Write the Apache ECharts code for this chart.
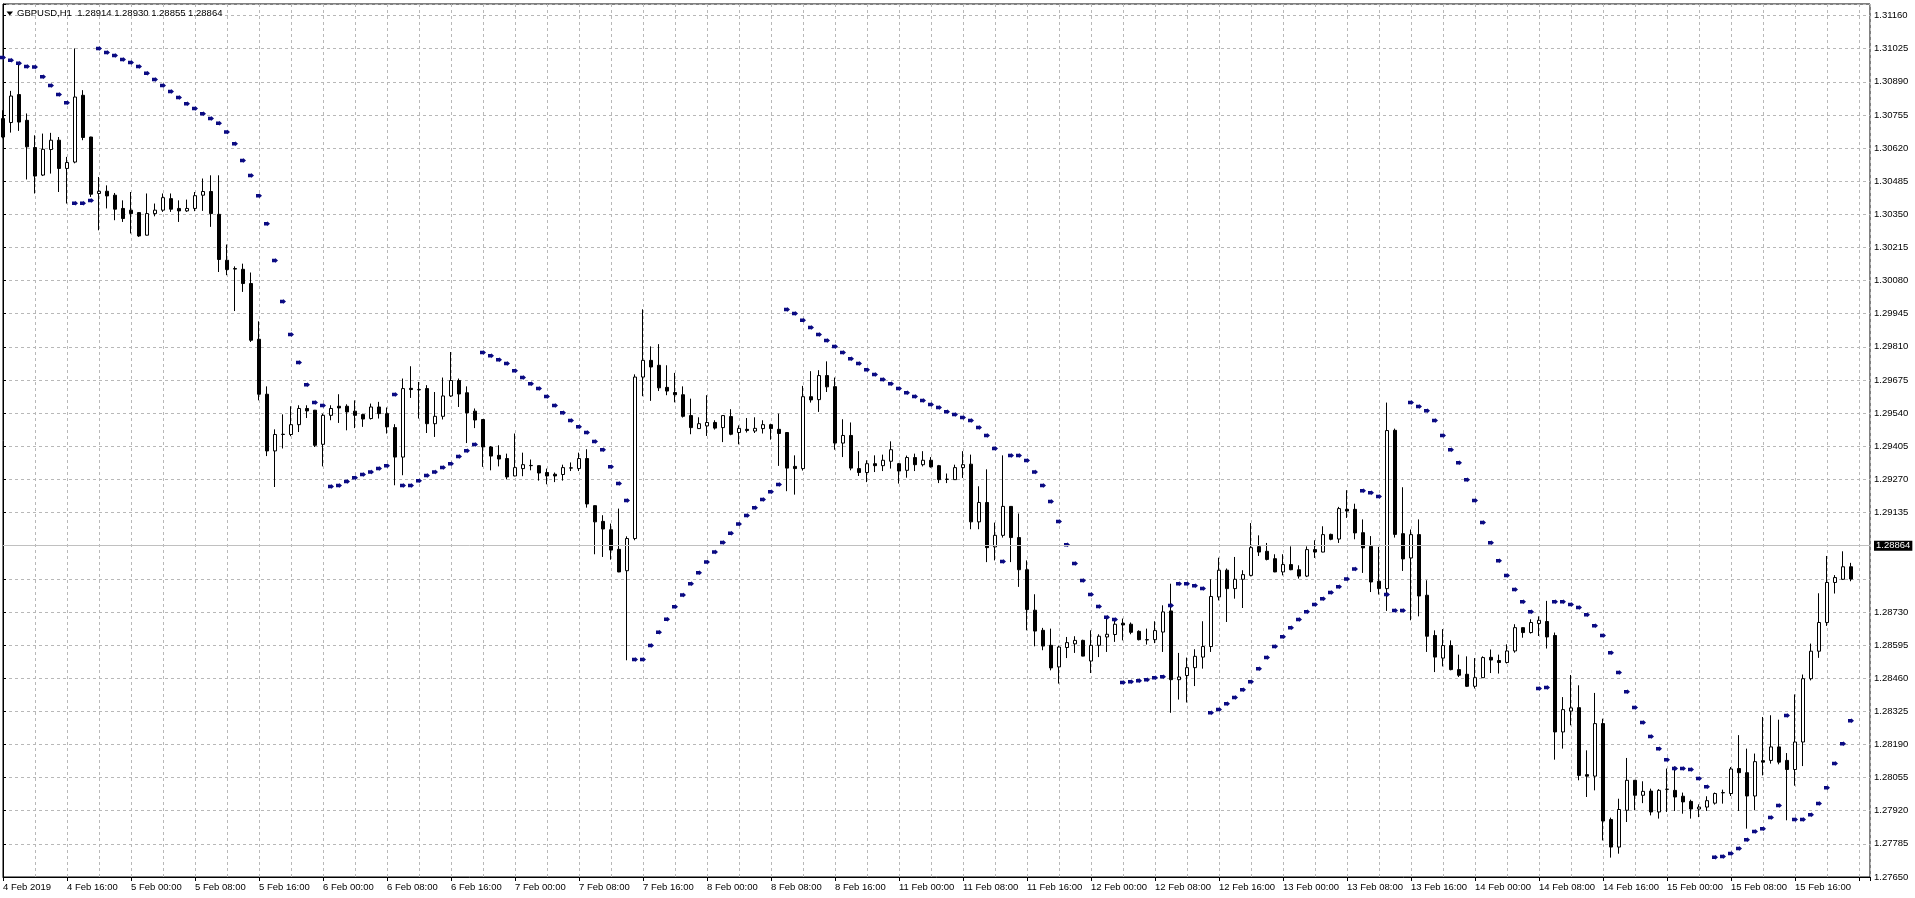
<!DOCTYPE html>
<html>
<head>
<meta charset="utf-8">
<script src="https://cdn.jsdelivr.net/npm/echarts@6/dist/echarts.min.js"></script>
<style>
html,body{margin:0;padding:0;background:#ffffff;}
#chart{width:1915px;height:898px;}
</style>
</head>
<body>
<div id="chart"></div>
<script>
const symbolName = 'GBPUSD,H1';

const tickLabels = ['4 Feb 2019','4 Feb 16:00','5 Feb 00:00','5 Feb 08:00','5 Feb 16:00','6 Feb 00:00','6 Feb 08:00','6 Feb 16:00','7 Feb 00:00','7 Feb 08:00','7 Feb 16:00','8 Feb 00:00','8 Feb 08:00','8 Feb 16:00','11 Feb 00:00','11 Feb 08:00','11 Feb 16:00','12 Feb 00:00','12 Feb 08:00','12 Feb 16:00','13 Feb 00:00','13 Feb 08:00','13 Feb 16:00','14 Feb 00:00','14 Feb 08:00','14 Feb 16:00','15 Feb 00:00','15 Feb 08:00','15 Feb 16:00'];

const opens = [
1.30740,1.30724,1.30838,1.30733,1.30622,1.30510,1.30614,1.30652,1.30537,1.30563,
1.30835,1.30665,1.30435,1.30444,1.30428,1.30374,1.30367,1.30357,1.30265,1.30353,
1.30367,1.30414,1.30374,1.30364,1.30374,1.30428,1.30443,1.30350,1.30163,1.30129,
1.30126,1.30068,1.29841,1.29617,1.29386,1.29453,1.29453,1.29493,1.29559,1.29552,
1.29413,1.29531,1.29568,1.29568,1.29548,1.29534,1.29518,1.29565,1.29538,1.29481,
1.29361,1.29641,1.29636,1.29640,1.29497,1.29527,1.29610,1.29673,1.29623,1.29548,
1.29514,1.29402,1.29368,1.29355,1.29284,1.29314,1.29326,1.29326,1.29298,1.29291,
1.29290,1.29317,1.29314,1.29355,1.29163,1.29099,1.29065,1.28985,1.28898,1.29029,
1.29687,1.29755,1.29735,1.29645,1.29624,1.29615,1.29530,1.29477,1.29488,1.29502,
1.29481,1.29526,1.29461,1.29474,1.29467,1.29477,1.29493,1.29474,1.29461,1.29323,
1.29314,1.29607,1.29595,1.29693,1.29648,1.29418,1.29449,1.29314,1.29298,1.29334,
1.29326,1.29344,1.29334,1.29307,1.29359,1.29330,1.29348,1.29326,1.29270,1.29269,
1.29318,1.29332,1.29097,1.29176,1.28995,1.29042,1.29160,1.29033,1.28902,1.28737,
1.28655,1.28594,1.28506,1.28585,1.28600,1.28614,1.28530,1.28594,1.28628,1.28638,
1.28684,1.28680,1.28651,1.28617,1.28617,1.28648,1.28734,1.28454,1.28471,1.28503,
1.28546,1.28589,1.28791,1.28900,1.28825,1.28863,1.28879,1.28996,1.28977,1.28947,
1.28893,1.28923,1.28902,1.28876,1.28984,1.28974,1.29046,1.29027,1.29148,1.29148,
1.29053,1.28997,1.28855,1.28825,1.29470,1.29049,1.28950,1.29045,1.28798,1.28634,
1.28542,1.28593,1.28495,1.28476,1.28427,1.28462,1.28545,1.28532,1.28524,1.28571,
1.28666,1.28646,1.28683,1.28691,1.28634,1.28241,1.28326,1.28340,1.28067,1.28061,
1.28275,1.27884,1.27772,1.27922,1.28044,1.27983,1.28000,1.27915,1.28007,1.28003,
1.27979,1.27958,1.27927,1.27935,1.27951,1.27993,1.27990,1.28092,1.28075,1.27980,
1.28124,1.28125,1.28180,1.28125,1.28088,1.28200,1.28458,1.28570,1.28687,1.28850,
1.28863,1.28914];

const highs = [
1.30774,1.30853,1.30969,1.30761,1.30672,1.30679,1.30682,1.30665,1.30584,1.31026,
1.30856,1.30666,1.30502,1.30468,1.30437,1.30407,1.30441,1.30358,1.30435,1.30394,
1.30435,1.30435,1.30407,1.30410,1.30441,1.30496,1.30509,1.30509,1.30227,1.30138,
1.30149,1.30113,1.29914,1.29649,1.29474,1.29535,1.29568,1.29572,1.29572,1.29553,
1.29538,1.29572,1.29617,1.29576,1.29592,1.29538,1.29579,1.29586,1.29563,1.29495,
1.29681,1.29731,1.29667,1.29654,1.29626,1.29685,1.29789,1.29681,1.29649,1.29559,
1.29515,1.29406,1.29409,1.29375,1.29457,1.29379,1.29351,1.29327,1.29314,1.29298,
1.29330,1.29339,1.29379,1.29393,1.29164,1.29124,1.29090,1.29151,1.29038,1.29698,
1.29963,1.29812,1.29821,1.29735,1.29704,1.29649,1.29599,1.29523,1.29613,1.29511,
1.29531,1.29556,1.29490,1.29520,1.29523,1.29511,1.29497,1.29538,1.29462,1.29368,
1.29651,1.29711,1.29715,1.29751,1.29685,1.29515,1.29502,1.29385,1.29348,1.29368,
1.29371,1.29425,1.29337,1.29367,1.29375,1.29385,1.29361,1.29329,1.29294,1.29330,
1.29385,1.29371,1.29242,1.29311,1.29094,1.29368,1.29161,1.29131,1.28940,1.28802,
1.28665,1.28662,1.28593,1.28628,1.28631,1.28617,1.28655,1.28639,1.28709,1.28703,
1.28703,1.28687,1.28655,1.28662,1.28692,1.28757,1.28845,1.28563,1.28544,1.28578,
1.28692,1.28863,1.28951,1.28907,1.28954,1.28900,1.29092,1.29042,1.29011,1.28965,
1.28965,1.28997,1.28920,1.28997,1.29022,1.29079,1.29049,1.29158,1.29226,1.29171,
1.29107,1.29039,1.28995,1.29583,1.29477,1.29238,1.29066,1.29107,1.28859,1.28655,
1.28660,1.28614,1.28556,1.28549,1.28542,1.28549,1.28577,1.28556,1.28598,1.28680,
1.28667,1.28700,1.28712,1.28775,1.28646,1.28383,1.28473,1.28431,1.28166,1.28400,
1.28295,1.27892,1.27969,1.28135,1.28045,1.28040,1.28010,1.28008,1.28092,1.28101,
1.27994,1.27965,1.27946,1.27979,1.27994,1.28006,1.28098,1.28228,1.28173,1.28153,
1.28302,1.28309,1.28291,1.28155,1.28394,1.28475,1.28601,1.28806,1.28958,1.28880,
1.28977,1.28930];

const lows = [
1.30660,1.30683,1.30690,1.30492,1.30435,1.30506,1.30516,1.30441,1.30394,1.30558,
1.30652,1.30421,1.30285,1.30374,1.30326,1.30319,1.30272,1.30258,1.30264,1.30342,
1.30360,1.30360,1.30319,1.30360,1.30363,1.30364,1.30299,1.30115,1.30102,1.29956,
1.30034,1.29830,1.29592,1.29365,1.29239,1.29396,1.29446,1.29463,1.29520,1.29402,
1.29323,1.29511,1.29500,1.29470,1.29479,1.29484,1.29514,1.29518,1.29457,1.29246,
1.29287,1.29602,1.29518,1.29459,1.29443,1.29514,1.29606,1.29565,1.29418,1.29479,
1.29321,1.29307,1.29323,1.29270,1.29283,1.29283,1.29307,1.29265,1.29250,1.29259,
1.29265,1.29304,1.29304,1.29155,1.28965,1.28954,1.28943,1.28892,1.28533,1.29022,
1.29609,1.29590,1.29630,1.29613,1.29584,1.29522,1.29454,1.29476,1.29447,1.29473,
1.29422,1.29450,1.29413,1.29461,1.29459,1.29457,1.29432,1.29325,1.29222,1.29208,
1.29306,1.29583,1.29545,1.29626,1.29391,1.29361,1.29307,1.29284,1.29259,1.29300,
1.29304,1.29314,1.29253,1.29277,1.29304,1.29323,1.29318,1.29255,1.29255,1.29268,
1.29276,1.29067,1.29067,1.28933,1.28940,1.29033,1.28933,1.28832,1.28655,1.28590,
1.28574,1.28492,1.28438,1.28542,1.28563,1.28549,1.28481,1.28546,1.28567,1.28608,
1.28614,1.28639,1.28614,1.28597,1.28603,1.28567,1.28319,1.28373,1.28361,1.28428,
1.28499,1.28567,1.28777,1.28689,1.28784,1.28746,1.28875,1.28958,1.28940,1.28892,
1.28879,1.28900,1.28866,1.28872,1.28950,1.28973,1.29022,1.29011,1.29113,1.29026,
1.28889,1.28811,1.28801,1.28734,1.29033,1.28897,1.28696,1.28712,1.28567,1.28485,
1.28508,1.28492,1.28465,1.28424,1.28418,1.28461,1.28481,1.28479,1.28520,1.28564,
1.28625,1.28642,1.28632,1.28581,1.28128,1.28173,1.28268,1.28044,1.27976,1.28003,
1.27799,1.27729,1.27745,1.27874,1.27922,1.27951,1.27901,1.27888,1.27915,1.27919,
1.27908,1.27888,1.27894,1.27919,1.27945,1.27949,1.27980,1.27919,1.27847,1.27922,
1.28064,1.28112,1.28109,1.27881,1.28022,1.28102,1.28451,1.28543,1.28673,1.28805,
1.28860,1.28855];

const closes = [
1.30665,1.30832,1.30726,1.30625,1.30506,1.30615,1.30652,1.30537,1.30561,1.30828,
1.30663,1.30432,1.30444,1.30425,1.30371,1.30333,1.30353,1.30262,1.30353,1.30367,
1.30418,1.30371,1.30364,1.30374,1.30426,1.30443,1.30353,1.30166,1.30125,1.30127,
1.30068,1.29837,1.29617,1.29386,1.29453,1.29454,1.29493,1.29559,1.29549,1.29409,
1.29531,1.29559,1.29561,1.29545,1.29531,1.29516,1.29565,1.29538,1.29484,1.29361,
1.29640,1.29636,1.29635,1.29497,1.29527,1.29610,1.29673,1.29618,1.29541,1.29512,
1.29402,1.29365,1.29353,1.29280,1.29318,1.29330,1.29327,1.29296,1.29284,1.29284,
1.29318,1.29316,1.29355,1.29170,1.29097,1.29068,1.28982,1.28893,1.29029,1.29687,
1.29755,1.29728,1.29643,1.29630,1.29615,1.29527,1.29481,1.29497,1.29502,1.29479,
1.29530,1.29454,1.29478,1.29469,1.29478,1.29493,1.29477,1.29457,1.29316,1.29314,
1.29607,1.29594,1.29693,1.29647,1.29418,1.29449,1.29316,1.29298,1.29334,1.29326,
1.29348,1.29391,1.29304,1.29359,1.29330,1.29348,1.29321,1.29269,1.29271,1.29318,
1.29330,1.29097,1.29176,1.28992,1.29042,1.29160,1.29033,1.28902,1.28740,1.28652,
1.28591,1.28502,1.28587,1.28605,1.28614,1.28550,1.28594,1.28631,1.28639,1.28680,
1.28677,1.28647,1.28617,1.28616,1.28654,1.28730,1.28454,1.28465,1.28503,1.28549,
1.28589,1.28793,1.28900,1.28825,1.28863,1.28882,1.28992,1.28974,1.28944,1.28893,
1.28923,1.28902,1.28876,1.28984,1.28974,1.29045,1.29026,1.29151,1.29141,1.29052,
1.28991,1.28852,1.28825,1.29469,1.29046,1.28946,1.29045,1.28795,1.28631,1.28546,
1.28593,1.28495,1.28472,1.28427,1.28462,1.28544,1.28534,1.28524,1.28571,1.28666,
1.28646,1.28687,1.28696,1.28628,1.28241,1.28332,1.28339,1.28064,1.28061,1.28275,
1.27878,1.27772,1.27925,1.28044,1.27983,1.27999,1.27915,1.28003,1.28008,1.27976,
1.27956,1.27927,1.27935,1.27961,1.27990,1.27994,1.28090,1.28075,1.27980,1.28120,
1.28118,1.28180,1.28118,1.28088,1.28200,1.28458,1.28570,1.28687,1.28850,1.28870,
1.28914,1.28864];

const sar = [
1.30989,1.30978,1.30966,1.30952,1.30950,1.30911,1.30875,1.30838,1.30805,1.30395,
1.30395,1.30406,1.31026,1.31009,1.30997,1.30981,1.30969,1.30952,1.30925,1.30899,
1.30875,1.30850,1.30826,1.30801,1.30781,1.30760,1.30740,1.30721,1.30685,1.30638,
1.30569,1.30508,1.30426,1.30312,1.30162,1.29995,1.29860,1.29746,1.29656,1.29583,
1.29571,1.29241,1.29245,1.29261,1.29277,1.29290,1.29300,1.29314,1.29326,1.29616,
1.29245,1.29245,1.29265,1.29286,1.29300,1.29318,1.29334,1.29363,1.29387,1.29412,
1.29787,1.29774,1.29758,1.29742,1.29713,1.29685,1.29660,1.29640,1.29608,1.29571,
1.29542,1.29510,1.29485,1.29461,1.29424,1.29391,1.29322,1.29253,1.29184,1.28536,
1.28536,1.28593,1.28647,1.28700,1.28751,1.28799,1.28845,1.28890,1.28933,1.28974,
1.29013,1.29051,1.29088,1.29123,1.29155,1.29188,1.29220,1.29249,1.29962,1.29946,
1.29918,1.29889,1.29860,1.29836,1.29811,1.29787,1.29762,1.29742,1.29717,1.29697,
1.29677,1.29660,1.29640,1.29623,1.29608,1.29591,1.29575,1.29563,1.29546,1.29534,
1.29522,1.29510,1.29481,1.29449,1.29396,1.28935,1.29367,1.29367,1.29347,1.29300,
1.29245,1.29180,1.29098,1.29004,1.28927,1.28858,1.28801,1.28752,1.28708,1.28699,
1.28442,1.28446,1.28450,1.28454,1.28462,1.28466,1.28756,1.28845,1.28845,1.28837,
1.28825,1.28319,1.28332,1.28356,1.28381,1.28413,1.28446,1.28499,1.28544,1.28589,
1.28629,1.28666,1.28699,1.28731,1.28760,1.28784,1.28809,1.28833,1.28864,1.28905,
1.29224,1.29216,1.29200,1.28801,1.28736,1.28736,1.29583,1.29567,1.29550,1.29510,
1.29449,1.29391,1.29338,1.29269,1.29184,1.29094,1.29012,1.28939,1.28878,1.28821,
1.28772,1.28731,1.28418,1.28422,1.28772,1.28772,1.28760,1.28748,1.28719,1.28674,
1.28634,1.28564,1.28483,1.28405,1.28341,1.28279,1.28222,1.28173,1.28128,1.28092,
1.28092,1.28088,1.28051,1.28018,1.27730,1.27734,1.27746,1.27766,1.27802,1.27835,
1.27847,1.27892,1.27941,1.28308,1.27884,1.27884,1.27904,1.27949,1.28014,1.28112,
1.28193,1.28287];

// axis settings
const priceMin = 1.27650;
const priceStep = 0.00135;
const priceTopTick = 1.31160;
const priceMax = 1.31207;
const barsVisible = 233.375;

const FONT = '"Liberation Sans", Arial, sans-serif';
const FS = 9.5;
const n = opens.length;
const last = n - 1;
const fmt = v => v.toFixed(5);

const candleData = opens.map((o, i) => [i, o, closes[i], lows[i], highs[i]]);
const sarData = sar.map((v, i) => [i, v]);

const chart = echarts.init(document.getElementById('chart'), null, {renderer: 'canvas', width: 1915, height: 898});

const option = {
  animation: false,
  backgroundColor: '#ffffff',
  textStyle: {fontFamily: FONT},
  grid: {left: 3, right: 45, top: 4, bottom: 21, show: true, borderColor: '#000000', borderWidth: 1, backgroundColor: 'transparent'},
  graphic: [
    {type: 'polygon', shape: {points: [[6.5, 11.5], [13, 11.5], [9.75, 15.5]]}, style: {fill: '#000000'}, z: 100},
    {type: 'text', x: 17, y: 13.5, z: 100, style: {
      text: symbolName + '  ' + fmt(opens[last]) + ' ' + fmt(highs[last]) + ' ' + fmt(lows[last]) + ' ' + fmt(closes[last]),
      fontSize: FS, fontFamily: FONT, fill: '#000000', verticalAlign: 'middle', align: 'left'}}
  ],
  xAxis: [
    {
      type: 'value', min: 0, max: barsVisible, interval: 4, position: 'bottom',
      axisLine: {show: false}, axisTick: {show: false}, axisLabel: {show: false},
      splitLine: {show: true, lineStyle: {color: '#b8b8b8', type: [3, 3], width: 1}}
    },
    {
      type: 'value', min: 0, max: barsVisible, interval: 8, position: 'bottom',
      axisLine: {show: true, onZero: false, lineStyle: {color: '#000000', width: 1}},
      axisTick: {show: true, length: 4, lineStyle: {color: '#000000'}},
      axisLabel: {show: true, margin: 5, align: 'left', color: '#000000', fontSize: FS, fontFamily: FONT,
        formatter: v => { const k = Math.round(v / 8); return (Math.abs(v - k * 8) < 1e-6 && tickLabels[k]) ? tickLabels[k] : ''; }},
      splitLine: {show: false}
    }
  ],
  yAxis: {
    type: 'value', position: 'right', min: priceMin, max: priceMax, interval: priceStep,
    axisLine: {show: true, lineStyle: {color: '#000000', width: 1}},
    axisTick: {show: true, length: 3, lineStyle: {color: '#000000'}},
    axisLabel: {show: true, margin: 4, color: '#000000', fontSize: FS, fontFamily: FONT,
      formatter: v => (v > priceTopTick + 1e-7 || Math.abs(v - closes[last]) < priceStep * 0.3) ? '' : v.toFixed(5)},
    splitLine: {show: true, lineStyle: {color: '#b8b8b8', type: [3, 3], width: 1}}
  },
  series: [
    {
      type: 'candlestick', xAxisIndex: 0, yAxisIndex: 0,
      data: candleData, encode: {x: 0, y: [1, 2, 3, 4]},
      barWidth: 4,
      itemStyle: {color: '#ffffff', color0: '#000000', borderColor: '#000000', borderColor0: '#000000', borderWidth: 1},
      markLine: {
        silent: true, animation: false, symbol: ['none', 'none'],
        lineStyle: {color: '#c0c0c0', type: 'solid', width: 1},
        label: {show: true, position: 'end', distance: 4, formatter: () => fmt(closes[last]),
          backgroundColor: '#000000', color: '#ffffff', fontSize: FS, fontFamily: FONT, padding: [0, 2, 0, 2], lineHeight: 10},
        data: [{yAxis: closes[last]}]
      },
      z: 2
    },
    {
      type: 'scatter', xAxisIndex: 0, yAxisIndex: 0,
      data: sarData,
      symbol: 'path://M0,0.6L2.4,0.6L2.4,0L4.5,2L2.4,4L2.4,3.4L0,3.4Z',
      symbolSize: [6, 5],
      itemStyle: {color: '#0a0a82', opacity: 1},
      silent: true,
      z: 3
    }
  ]
};
chart.setOption(option);
</script>
</body>
</html>
